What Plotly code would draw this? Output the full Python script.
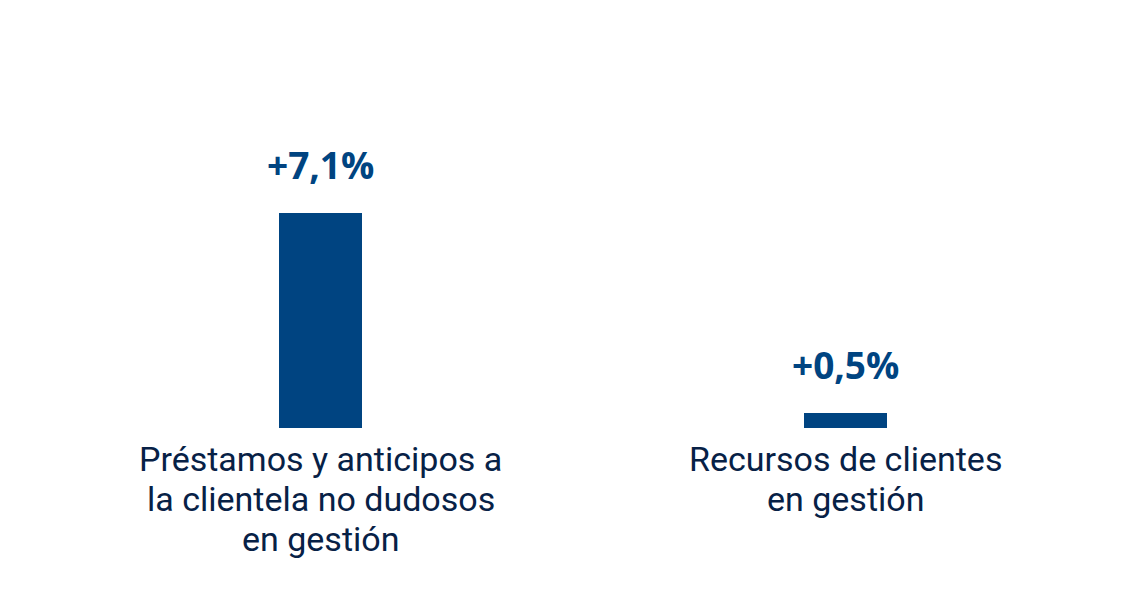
import plotly.graph_objects as go

# data
categories = [
    "Préstamos y anticipos a<br>la clientela no dudosos<br>en gestión",
    "Recursos de clientes<br>en gestión",
]
values = [7.1, 0.5]
value_labels = ["+7,1%", "+0,5%"]

BAR_BLUE = "#004481"
TEXT_NAVY = "#072146"

fig = go.Figure()

fig.add_trace(go.Bar(
    x=categories,
    y=values,
    width=0.158,
    marker=dict(color=BAR_BLUE, line=dict(width=0)),
    hoverinfo="skip",
))

# value labels above the bars
for cat, v, lab in zip(categories, values, value_labels):
    fig.add_annotation(
        x=cat, y=v, text=f"<b>{lab}</b>",
        showarrow=False, yanchor="bottom", yshift=21,
        font=dict(family="Open Sans", size=37, color=BAR_BLUE),
    )

# category labels under the bars, one annotation per line for tighter leading
for cat in categories:
    for i, line in enumerate(cat.split("<br>")):
        fig.add_annotation(
            x=cat, y=0, text=line,
            showarrow=False, yanchor="middle", yshift=-(31 + 40 * i),
            font=dict(family="Roboto", size=34, color=TEXT_NAVY),
        )

fig.update_layout(
    width=1146,
    height=594,
    margin=dict(l=50, r=46, t=12, b=174),
    paper_bgcolor="white",
    plot_bgcolor="white",
    showlegend=False,
    bargap=0,
    font=dict(family="Roboto", color=TEXT_NAVY),
)

fig.update_xaxes(
    showgrid=False, showline=False, zeroline=False,
    ticks="", showticklabels=False,
)
fig.update_yaxes(
    visible=False, range=[0, 13.47], showgrid=False, zeroline=False,
)

fig.write_html("out.html")
